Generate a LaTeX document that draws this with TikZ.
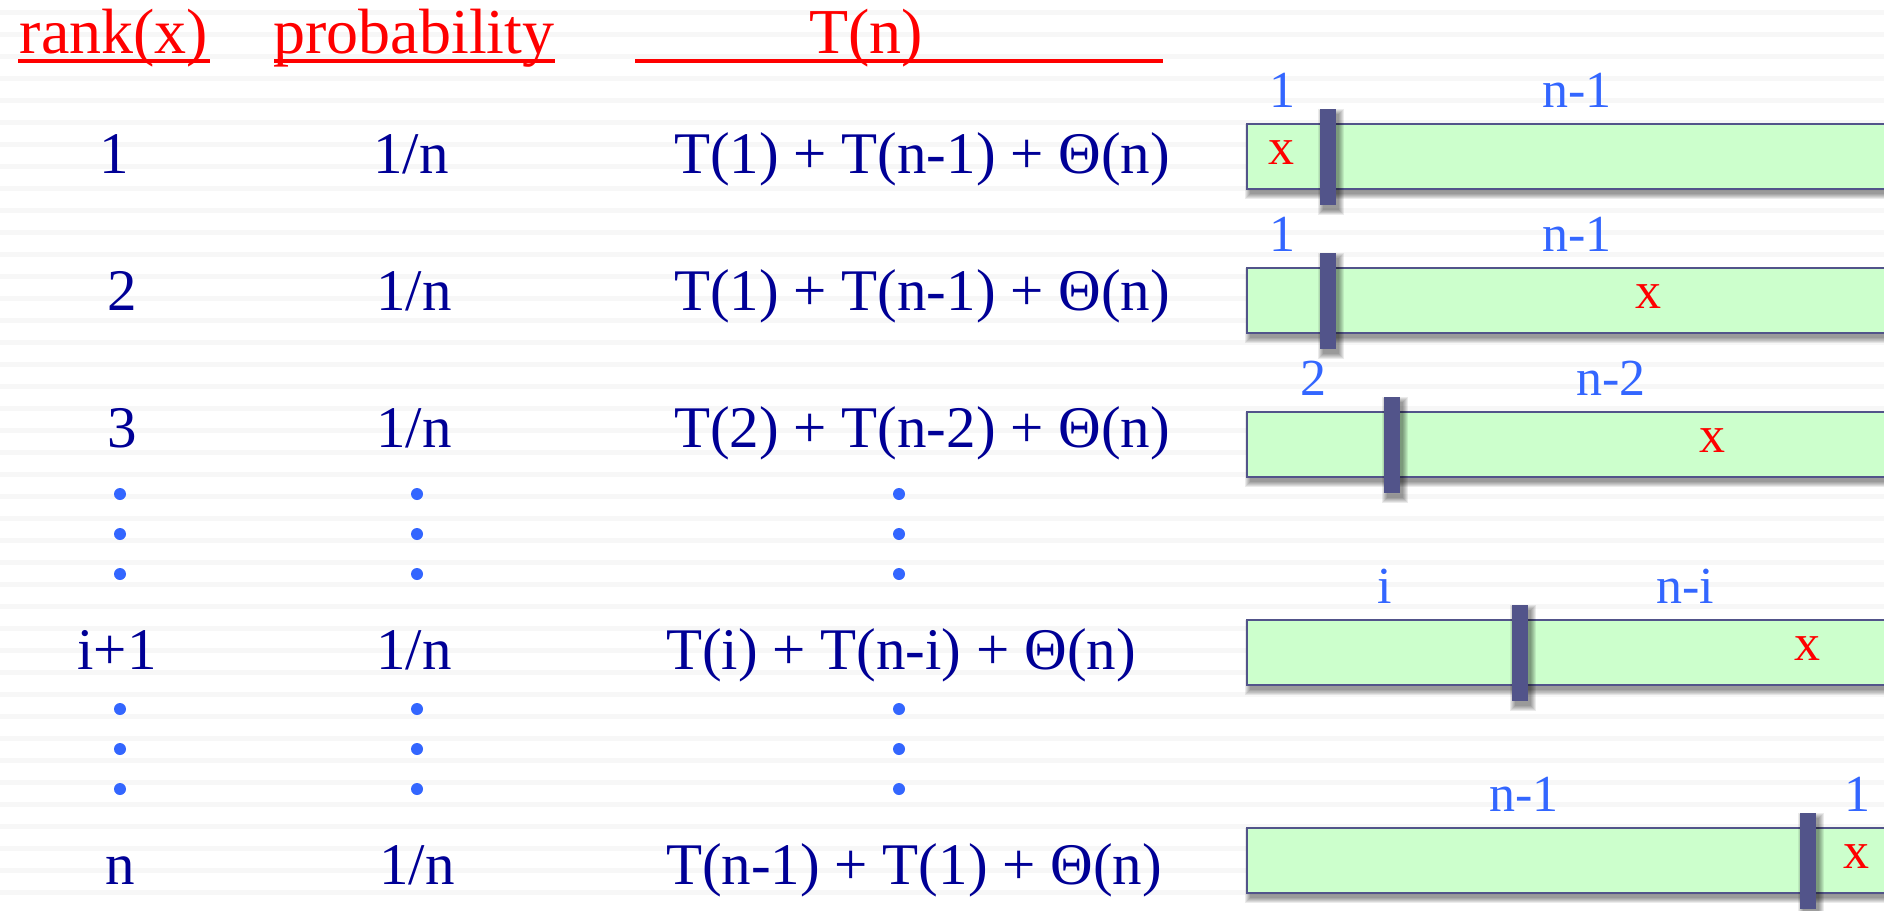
\documentclass[tikz,border=0pt]{standalone}
\usepackage{fontspec}
\setmainfont{Liberation Serif}
\definecolor{hdr}{RGB}{255,0,0}
\definecolor{navy}{RGB}{0,0,150}
\definecolor{lblue}{RGB}{51,102,255}
\definecolor{barfill}{RGB}{204,255,204}
\definecolor{barline}{RGB}{82,84,138}
\definecolor{stripe}{RGB}{247,247,247}
\newcommand\softshadow[4]{%
  \foreach \k in {0,...,5}{%
    \fill[black,opacity=0.08] ({#1+3-\k},{#2+5-\k}) rectangle ({#3+3+\k},{#4+5+\k});
  }}
\begin{document}
\begin{tikzpicture}[x=0.5pt,y=-0.5pt,
 hdrtxt/.style={text=hdr, font=\fontsize{32}{36}\selectfont, inner sep=0pt, anchor=base},
 bodytxt/.style={text=navy, font=\fontsize{29.5}{34}\selectfont, inner sep=0pt, anchor=base},
 lbl/.style={text=lblue, font=\fontsize{26}{30}\selectfont, inner sep=0pt, anchor=base},
 xmark/.style={text=red, font=\fontsize{26}{30}\selectfont, inner sep=0pt, anchor=base},
 barbox/.style={fill=barfill, draw=barline, line width=1.2pt},
 divider/.style={fill=barline, draw=none},
 vdot/.style={circle, fill=lblue, minimum size=6pt, inner sep=0pt},
 uline/.style={draw=hdr, line width=2pt}
]
\useasboundingbox (0,0) rectangle (1884,910);
\clip (0,0) rectangle (1884,910);
\fill[white] (0,0) rectangle (1884,910);
\foreach \k in {0,...,40}{\fill[stripe] (0,{10+22*\k}) rectangle (1884,{15+22*\k});}

% headers
\node[hdrtxt] (hrank) at (114,53) {rank(x)};
\node[hdrtxt] (hprob) at (414,53) {probability};
\node[hdrtxt] (htn) at (866,53) {T(n)};
\coordinate (ulr1) at (18,61); \coordinate (ulr2) at (210,61);
\coordinate (ulp1) at (274,61); \coordinate (ulp2) at (555,61);
\coordinate (ult1) at (635,61); \coordinate (ult2) at (1163,61);
\draw[uline] (ulr1) -- (ulr2);
\draw[uline] (ulp1) -- (ulp2);
\draw[uline] (ult1) -- (ult2);

% rows
\node[bodytxt] (r1) at (114,173) {1};
\node[bodytxt] (p1) at (411,173) {1/n};
\node[bodytxt] (t1) at (922,173) {T(1) + T(n-1) + Θ(n)};
\node[bodytxt] (r2) at (122,310) {2};
\node[bodytxt] (p2) at (414,310) {1/n};
\node[bodytxt] (t2) at (922,310) {T(1) + T(n-1) + Θ(n)};
\node[bodytxt] (r3) at (122,447) {3};
\node[bodytxt] (p3) at (414,447) {1/n};
\node[bodytxt] (t3) at (922,447) {T(2) + T(n-2) + Θ(n)};
\node[bodytxt] (r4) at (117,669) {i+1};
\node[bodytxt] (p4) at (414,669) {1/n};
\node[bodytxt] (t4) at (901,669) {T(i) + T(n-i) + Θ(n)};
\node[bodytxt] (r5) at (120,884) {n};
\node[bodytxt] (p5) at (417,884) {1/n};
\node[bodytxt] (t5) at (914,884) {T(n-1) + T(1) + Θ(n)};

% dots
\foreach \yy/\nm in {494/a,534/b,574/c,709/d,749/e,789/f}{
  \node[vdot] (dr\nm) at (120,\yy) {};
  \node[vdot] (dp\nm) at (417,\yy) {};
  \node[vdot] (dt\nm) at (899,\yy) {};
}

% bars
\foreach \top/\dx in {124/1320,268/1320,412/1384,620/1512,828/1800}{
  \softshadow{1247}{\top}{1900}{\top+65}
  \fill[barfill] (1247,\top) rectangle (1900,\top+65);
  \draw[barline, line width=1.2pt] (1900,\top) -- (1247,\top) -- (1247,\top+65) -- (1900,\top+65);
  \softshadow{\dx}{\top-15}{\dx+16}{\top+81}
  \fill[divider] (\dx,\top-15) rectangle (\dx+16,\top+81);
}

% bar labels
\node[lbl] (a1) at (1282,107) {1};
\node[lbl] (b1) at (1577,107) {n-1};
\node[xmark] (x1) at (1281,164) {x};
\node[lbl] (a2) at (1282,251) {1};
\node[lbl] (b2) at (1577,251) {n-1};
\node[xmark] (x2) at (1648,308) {x};
\node[lbl] (a3) at (1313,395) {2};
\node[lbl] (b3) at (1611,395) {n-2};
\node[xmark] (x3) at (1712,452) {x};
\node[lbl] (a4) at (1385,603) {i};
\node[lbl] (b4) at (1685,603) {n-i};
\node[xmark] (x4) at (1807,660) {x};
\node[lbl] (a5) at (1524,811) {n-1};
\node[lbl] (b5) at (1857,811) {1};
\node[xmark] (x5) at (1856,868) {x};
\end{tikzpicture}
\end{document}
